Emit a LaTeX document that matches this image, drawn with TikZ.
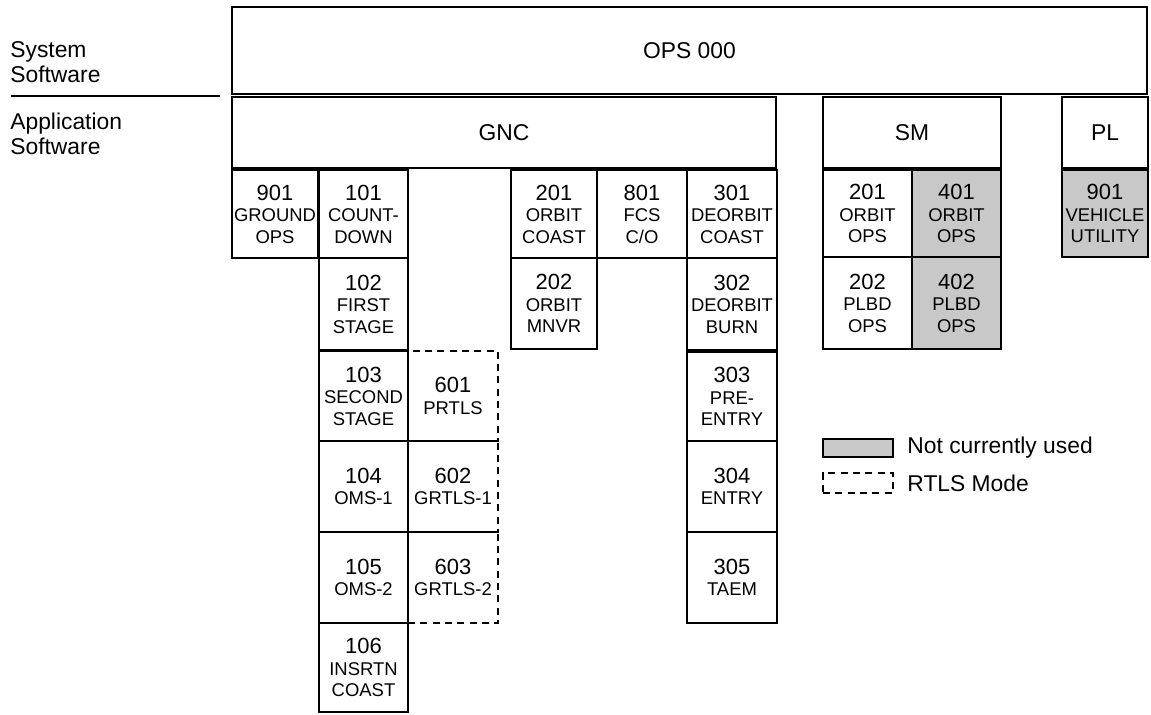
\documentclass[tikz,border=0pt]{standalone}
\usepackage{fontspec}
\setmainfont{Liberation Sans}
\usetikzlibrary{positioning, fit}
\definecolor{unused}{HTML}{C8C8C8}
\newcommand{\opsnum}[1]{{\fontsize{12.5}{12}\selectfont #1}}

\tikzset{
  opsbox/.style={draw, line width=1.2pt, inner sep=0pt},
  unusedbox/.style={opsbox, fill=unused},
  rtlsbox/.style={opsbox, dash pattern=on 4pt off 3pt},
  modetext/.style={inner sep=0pt, align=center, font=\fontsize{10.5}{12.2}\selectfont},
  bigtext/.style={font=\fontsize{13}{15}\selectfont},
  sidetext/.style={inner sep=0pt, align=left, anchor=north west,
    font=\fontsize{13}{14.2}\selectfont},
  keytext/.style={inner sep=0pt, font=\fontsize{13}{15}\selectfont},
}

\begin{document}
\begin{tikzpicture}[x=0.02cm, y=-0.02cm]
\useasboundingbox (0,0) rectangle (1151,714);

% Layer labels
\node[sidetext] (syslbl) at (10,41) {System\\Software};
\node[sidetext] (applbl) at (10,113) {Application\\Software};
\draw[line width=1pt] (11,96) -- (220,96);

% System software
\node[opsbox, bigtext, fit={(232,7) (1147,94)}, label={[bigtext]center:OPS 000}] (ops000) {};

% Major functions
\node[opsbox, fit={(232,97) (776,168)}, label={[bigtext]center:GNC}] (gnc) {};
\node[opsbox, fit={(823,97) (1001,168)}, label={[bigtext]center:SM}] (sm) {};
\node[opsbox, fit={(1062,97) (1148,168)}, label={[bigtext]center:PL}] (pl) {};

% GNC: RTLS modes (dashed, drawn first)
\node[rtlsbox, fit={(408,351) (498,441)}, label={[modetext]center:\opsnum{601}\\PRTLS}] (gnc601) {};
\node[rtlsbox, fit={(408,441) (498,532)}, label={[modetext]center:\opsnum{602}\\GRTLS-1}] (gnc602) {};
\node[rtlsbox, fit={(408,532) (498,623)}, label={[modetext]center:\opsnum{603}\\GRTLS-2}] (gnc603) {};

% GNC: ground and ascent
\node[opsbox, fit={(232,170) (318,258)}, label={[modetext]center:\opsnum{901}\\GROUND\\OPS}] (gnc901) {};
\node[opsbox, fit={(319,170) (408,258)}, label={[modetext]center:\opsnum{101}\\COUNT-\\DOWN}] (gnc101) {};
\node[opsbox, fit={(319,258) (408,350)}, label={[modetext]center:\opsnum{102}\\FIRST\\STAGE}] (gnc102) {};
\node[opsbox, fit={(319,351) (408,441)}, label={[modetext]center:\opsnum{103}\\SECOND\\STAGE}] (gnc103) {};
\node[opsbox, fit={(319,441) (408,532)}, label={[modetext]center:\opsnum{104}\\OMS-1}] (gnc104) {};
\node[opsbox, fit={(319,532) (408,623)}, label={[modetext]center:\opsnum{105}\\OMS-2}] (gnc105) {};
\node[opsbox, fit={(319,623) (408,712)}, label={[modetext]center:\opsnum{106}\\INSRTN\\COAST}] (gnc106) {};

% GNC: orbit and checkout
\node[opsbox, fit={(511,170) (597,258)}, label={[modetext]center:\opsnum{201}\\ORBIT\\COAST}] (gnc201) {};
\node[opsbox, fit={(511,258) (597,349)}, label={[modetext]center:\opsnum{202}\\ORBIT\\MNVR}] (gnc202) {};
\node[opsbox, fit={(597,170) (687,258)}, label={[modetext]center:\opsnum{801}\\FCS\\C/O}] (gnc801) {};

% GNC: deorbit and entry
\node[opsbox, fit={(687,170) (777,258)}, label={[modetext]center:\opsnum{301}\\DEORBIT\\COAST}] (gnc301) {};
\node[opsbox, fit={(687,258) (777,350)}, label={[modetext]center:\opsnum{302}\\DEORBIT\\BURN}] (gnc302) {};
\node[opsbox, fit={(687,352) (777,441)}, label={[modetext]center:\opsnum{303}\\PRE-\\ENTRY}] (gnc303) {};
\node[opsbox, fit={(687,441) (777,532)}, label={[modetext]center:\opsnum{304}\\ENTRY}] (gnc304) {};
\node[opsbox, fit={(687,532) (777,623)}, label={[modetext]center:\opsnum{305}\\TAEM}] (gnc305) {};

% SM modes
\node[opsbox, fit={(823,170) (912,257)}, label={[modetext]center:\opsnum{201}\\ORBIT\\OPS}] (sm201) {};
\node[unusedbox, fit={(912,170) (1001,257)}, label={[modetext]center:\opsnum{401}\\ORBIT\\OPS}] (sm401) {};
\node[opsbox, fit={(823,257) (912,349)}, label={[modetext]center:\opsnum{202}\\PLBD\\OPS}] (sm202) {};
\node[unusedbox, fit={(912,257) (1001,349)}, label={[modetext]center:\opsnum{402}\\PLBD\\OPS}] (sm402) {};

% PL mode
\node[unusedbox, fit={(1062,170) (1148,257)}, label={[modetext]center:\opsnum{901}\\VEHICLE\\UTILITY}] (pl901) {};

% Key
\node[unusedbox, fit={(823,439) (893,457)}] (keyunused) {};
\node[keytext, right=0.26cm of keyunused] (keyunusedtxt) {Not currently used};
\node[rtlsbox, fit={(823,473) (893,493)}] (keyrtls) {};
\node[keytext, right=0.26cm of keyrtls] (keyrtlstxt) {RTLS Mode};

\end{tikzpicture}
\end{document}
